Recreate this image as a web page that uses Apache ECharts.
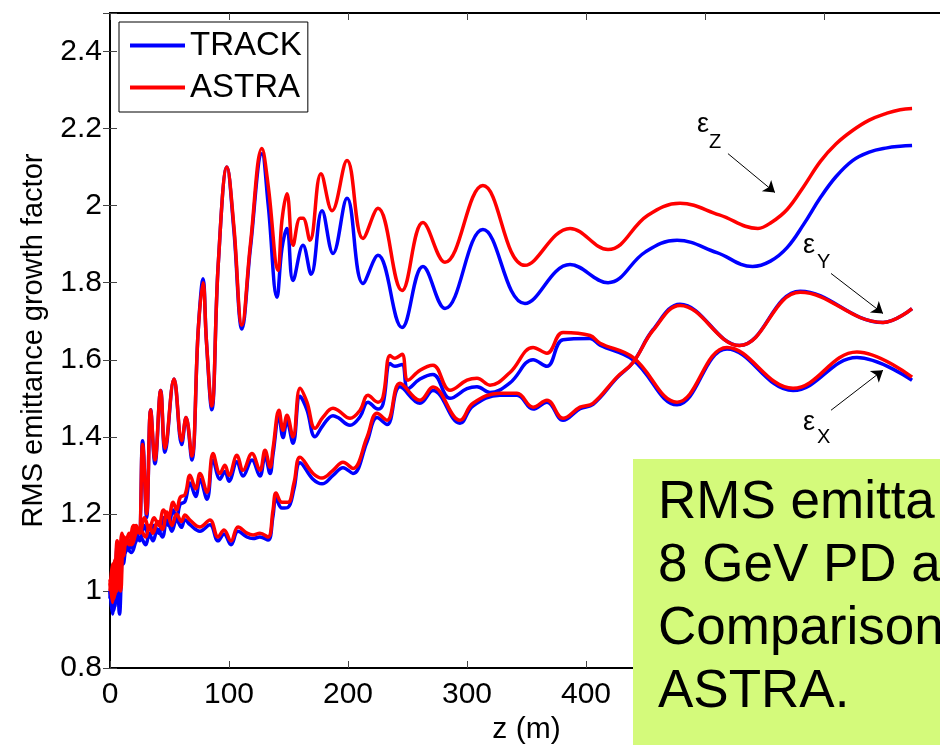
<!DOCTYPE html>
<html>
<head>
<meta charset="utf-8">
<script src="https://cdn.jsdelivr.net/npm/echarts@6/dist/echarts.min.js"></script>
<style>html,body{margin:0;padding:0;background:#fff;}#c{width:940px;height:745px;}</style>
</head>
<body>
<div id="c"></div>
<script>
// ---- data: [z (m), RMS emittance growth factor] ----
const trackZ = [[0,1.0],[3,0.95],[6,1.12],[8,0.94],[12,1.13],[16,1.11],[20,1.16],[24,1.15],[27.4,1.39],[30.8,1.19],[34.2,1.47],[37.8,1.33],[42.6,1.52],[46.2,1.36],[53.8,1.55],[60.3,1.38],[63.9,1.45],[68.7,1.34],[74.2,1.68],[78.2,1.81],[81,1.65],[85.5,1.47],[91,1.85],[98.3,2.10],[104,1.94],[110.9,1.68],[118,1.89],[127.7,2.135],[133,2.0],[140.3,1.762],[144.5,1.889],[148.7,1.941],[153.8,1.806],[162.2,1.897],[169,1.822],[178.2,1.987],[187.4,1.876],[199.2,2.019],[212.6,1.798],[225.2,1.871],[245.4,1.684],[263,1.842],[281.5,1.733],[313.4,1.938],[348.7,1.746],[386.6,1.847],[418.5,1.80],[450,1.88],[476.5,1.91],[510,1.878],[540,1.842],[555,1.856],[569,1.891],[583,1.952],[597,2.021],[610,2.075],[624,2.117],[638,2.139],[653,2.15],[664,2.154],[674,2.156]];
const astraZ = [[0,1.02],[3,0.98],[6,1.13],[9,1.0],[12,1.14],[16,1.12],[20,1.17],[24,1.16],[27.4,1.38],[30.8,1.2],[34.2,1.47],[37.8,1.34],[42.6,1.52],[46.2,1.37],[53.8,1.55],[60.3,1.39],[63.9,1.45],[68.7,1.35],[74.2,1.68],[78.2,1.80],[81,1.65],[85.5,1.48],[91,1.85],[98.3,2.10],[104,1.95],[110.9,1.69],[118,1.9],[127.7,2.148],[133,2.05],[141.2,1.832],[144.5,1.962],[148.7,2.031],[153.8,1.897],[159.7,1.967],[162.2,1.967],[168,1.91],[177.3,2.083],[186.6,1.987],[199.2,2.117],[212.6,1.915],[225.2,1.993],[245.4,1.78],[263,1.956],[281.5,1.853],[313.4,2.052],[348.7,1.845],[386.6,1.941],[418.5,1.886],[452,1.975],[479,2.006],[512,1.976],[544.5,1.941],[556,1.957],[569,1.99],[583,2.05],[597,2.115],[610,2.16],[624,2.195],[638,2.222],[653,2.24],[664,2.249],[674,2.252]];
const trackX = [[0,0.98],[2,1.05],[4,0.96],[6,1.09],[8,1.02],[10,1.13],[13,1.10],[16,1.13],[19,1.11],[22,1.15],[25,1.13],[29,1.17],[33,1.14],[37,1.17],[41,1.15],[45,1.19],[49,1.17],[53,1.21],[56,1.19],[59,1.225],[63,1.232],[67.2,1.28],[72,1.245],[75.6,1.29],[81.5,1.238],[86.6,1.34],[92.4,1.29],[96.6,1.31],[100,1.285],[106.7,1.335],[111.8,1.298],[119.3,1.34],[126,1.298],[130.3,1.35],[134.5,1.305],[137,1.355],[142,1.452],[145.4,1.398],[148.7,1.44],[153.8,1.383],[159.7,1.505],[165.5,1.47],[172.3,1.40],[179,1.43],[187.4,1.455],[191.6,1.45],[201.7,1.43],[210.1,1.452],[216.8,1.49],[225.2,1.472],[229.4,1.485],[235.3,1.59],[239.5,1.583],[245.4,1.588],[250.4,1.525],[260.5,1.55],[271.4,1.562],[285.7,1.5],[300,1.525],[308.4,1.53],[319.3,1.515],[336.1,1.54],[355.5,1.60],[367.2,1.583],[380.7,1.652],[403.4,1.655],[411.8,1.638],[439.5,1.60],[476.5,1.483],[518.5,1.628],[574,1.52],[627.7,1.606],[674,1.547]];
const astraX = [[0,1.0],[2,1.07],[4,0.99],[6,1.11],[8,1.04],[10,1.15],[13,1.12],[16,1.15],[19,1.13],[22,1.17],[25,1.15],[29,1.19],[33,1.16],[37,1.19],[41,1.17],[45,1.21],[49,1.19],[53,1.23],[56,1.21],[59,1.243],[63,1.25],[67.2,1.30],[72,1.265],[75.6,1.305],[81.5,1.256],[86.6,1.357],[92.4,1.305],[96.6,1.326],[100,1.30],[106.7,1.352],[111.8,1.313],[119.3,1.357],[126,1.313],[130.3,1.365],[134.5,1.321],[137,1.37],[142,1.469],[145.4,1.417],[148.7,1.456],[153.8,1.40],[159.7,1.526],[165.5,1.49],[172.3,1.422],[179,1.451],[187.4,1.474],[191.6,1.469],[201.7,1.448],[210.1,1.469],[216.8,1.508],[225.2,1.49],[229.4,1.503],[235.3,1.611],[239.5,1.604],[245.4,1.614],[250.4,1.547],[260.5,1.573],[271.4,1.586],[285.7,1.521],[300,1.547],[308.4,1.552],[319.3,1.534],[336.1,1.567],[355.5,1.632],[367.2,1.617],[380.7,1.671],[403.4,1.663],[411.8,1.643],[439.5,1.606],[476.5,1.49],[518.5,1.632],[574,1.526],[627.7,1.62],[674,1.555]];
const trackY = [[0,1.0],[2,0.94],[4,1.06],[6,0.97],[8,1.10],[11,1.07],[14,1.11],[18,1.10],[22,1.13],[25.2,1.14],[30,1.12],[33,1.15],[36.1,1.13],[40,1.16],[44,1.14],[47.9,1.19],[52,1.155],[56,1.185],[60,1.165],[63,1.185],[67.2,1.172],[75.6,1.155],[84,1.172],[90.8,1.13],[95.8,1.148],[101.7,1.12],[107.6,1.155],[115.1,1.14],[120.2,1.136],[126,1.14],[132.8,1.132],[137,1.195],[139.5,1.24],[144.5,1.215],[149.6,1.217],[154.6,1.265],[159.7,1.333],[170.6,1.29],[178.2,1.278],[187.4,1.30],[195.8,1.32],[204.2,1.305],[216,1.387],[224.4,1.45],[232.8,1.432],[243.7,1.53],[260.5,1.487],[271.4,1.52],[294.1,1.435],[305,1.48],[327.7,1.508],[342,1.508],[355.5,1.472],[367.2,1.49],[380.7,1.443],[395,1.473],[405.9,1.484],[426,1.553],[439.5,1.593],[456.3,1.678],[479,1.744],[529,1.637],[580,1.778],[649.6,1.697],[674,1.733]];
const astraY = [[0,1.03],[2,0.97],[4,1.08],[6,1.0],[8,1.12],[11,1.09],[14,1.13],[18,1.12],[22,1.15],[25.2,1.158],[30,1.14],[33,1.17],[36.1,1.15],[40,1.18],[44,1.16],[47.9,1.205],[52,1.17],[56,1.2],[60,1.18],[63,1.197],[67.2,1.184],[75.6,1.166],[84,1.184],[90.8,1.14],[95.8,1.158],[101.7,1.13],[107.6,1.166],[115.1,1.15],[120.2,1.145],[126,1.15],[132.8,1.14],[137,1.21],[139.5,1.254],[144.5,1.23],[149.6,1.23],[154.6,1.28],[159.7,1.347],[170.6,1.305],[178.2,1.293],[187.4,1.313],[195.8,1.334],[204.2,1.318],[216,1.399],[224.4,1.461],[232.8,1.443],[243.7,1.539],[260.5,1.495],[271.4,1.529],[294.1,1.443],[305,1.487],[327.7,1.513],[342,1.513],[355.5,1.477],[367.2,1.495],[380.7,1.448],[395,1.477],[405.9,1.487],[426,1.555],[439.5,1.593],[456.3,1.676],[479,1.741],[529,1.637],[580,1.775],[649.6,1.697],[674,1.733]];
// annotation arrows [from, to] in data coordinates
const arrows = [
  [[519.3,2.135],[558.8,2.034]],
  [[605.9,1.824],[649.6,1.72]],
  [[605.9,1.469],[649.6,1.573]]
];
const legendNames = ['TRACK','ASTRA'];
const boxLines = ['RMS emitta','8 GeV PD a','Comparison','ASTRA.'];

const FONT = "'Liberation Sans', Arial, Helvetica, sans-serif";
const BLUE = '#0000ff', RED = '#ff0000';

function mk(name, data, color, z) {
  return {
    name: name, type: 'line', data: data, showSymbol: false, symbol: 'none',
    smooth: 0.4, z: z,
    lineStyle: {color: color, width: 3.5}, itemStyle: {color: color},
    emphasis: {disabled: true}
  };
}

const chart = echarts.init(document.getElementById('c'), null, {renderer: 'canvas'});
const series = [
  mk('TRACK', trackZ, BLUE, 2), mk('TRACK', trackY, BLUE, 2), mk('TRACK', trackX, BLUE, 2),
  mk('ASTRA', astraZ, RED, 3), mk('ASTRA', astraY, RED, 3), mk('ASTRA', astraX, RED, 3)
];
series[5].markLine = {
  silent: true, symbol: ['none','arrow'], symbolSize: 11, animation: false,
  lineStyle: {color: '#000', width: 1, type: 'solid'},
  label: {show: false}, emphasis: {disabled: true},
  data: arrows.map(a => [{coord: a[0]}, {coord: a[1]}])
};

const axisCommon = {
  axisLine: {show: true, lineStyle: {color: '#000', width: 2}},
  axisTick: {inside: true, length: 7, lineStyle: {color: '#444', width: 1}},
  splitLine: {show: false}
};

const graphic = [
  {type:'rect', shape:{x:633, y:459, width:320, height:290}, style:{fill:'#d4fa7b'}, z:100},
  ...boxLines.map((t,i) => ({type:'text', x:658, y:503 + i*63, z:101,
     style:{text:t, font:'53px ' + FONT, fill:'#000', verticalAlign:'middle', align:'left'}})),
  {type:'text', x:697, y:125, z:50, style:{text:'ε', font:'27px ' + FONT, fill:'#000', verticalAlign:'middle'}},
  {type:'text', x:709, y:142, z:50, style:{text:'Z', font:'20px ' + FONT, fill:'#000', verticalAlign:'middle'}},
  {type:'text', x:803, y:246, z:50, style:{text:'ε', font:'27px ' + FONT, fill:'#000', verticalAlign:'middle'}},
  {type:'text', x:817, y:262, z:50, style:{text:'Y', font:'20px ' + FONT, fill:'#000', verticalAlign:'middle'}},
  {type:'text', x:803, y:423, z:50, style:{text:'ε', font:'27px ' + FONT, fill:'#000', verticalAlign:'middle'}},
  {type:'text', x:817, y:437, z:50, style:{text:'X', font:'20px ' + FONT, fill:'#000', verticalAlign:'middle'}}
];

chart.setOption({
  animation: false,
  backgroundColor: '#fff',
  textStyle: {fontFamily: FONT},
  grid: {left: 110, top: 13, width: 833, height: 655, containLabel: false, outerBoundsMode: 'none'},
  legend: {
    data: legendNames, orient: 'vertical', left: 119, top: 22,
    icon: 'rect', itemWidth: 55, itemHeight: 4, itemGap: 9,
    padding: [7, 6, 8, 11], borderColor: '#000', borderWidth: 1,
    backgroundColor: '#fff', selectedMode: false,
    textStyle: {fontSize: 33, lineHeight: 30, color: '#000', fontFamily: FONT}
  },
  xAxis: [
    Object.assign({type:'value', min:0, max:700, interval:100, position:'bottom',
      name:'z (m)', nameLocation:'middle', nameGap:44,
      nameTextStyle:{fontSize:30, color:'#000', fontFamily:FONT},
      axisLabel:{fontSize:30, color:'#000', margin:12, fontFamily:FONT}}, axisCommon),
    Object.assign({type:'value', min:0, max:700, interval:100, position:'top',
      axisLabel:{show:false}}, axisCommon)
  ],
  yAxis: [
    Object.assign({type:'value', min:0.8, max:2.5, interval:0.2, position:'left',
      name:'RMS emittance growth factor', nameLocation:'middle', nameGap:62,
      nameTextStyle:{fontSize:29, color:'#000', fontFamily:FONT},
      axisLabel:{fontSize:30, color:'#000', margin:8, fontFamily:FONT,
        formatter: v => (Math.abs(v - 2.5) < 1e-6 ? '' : String(Math.round(v*10)/10))}}, axisCommon),
    Object.assign({type:'value', min:0.8, max:2.5, interval:0.2, position:'right',
      axisLabel:{show:false}}, axisCommon)
  ],
  series: series,
  graphic: graphic
});
</script>
</body>
</html>
